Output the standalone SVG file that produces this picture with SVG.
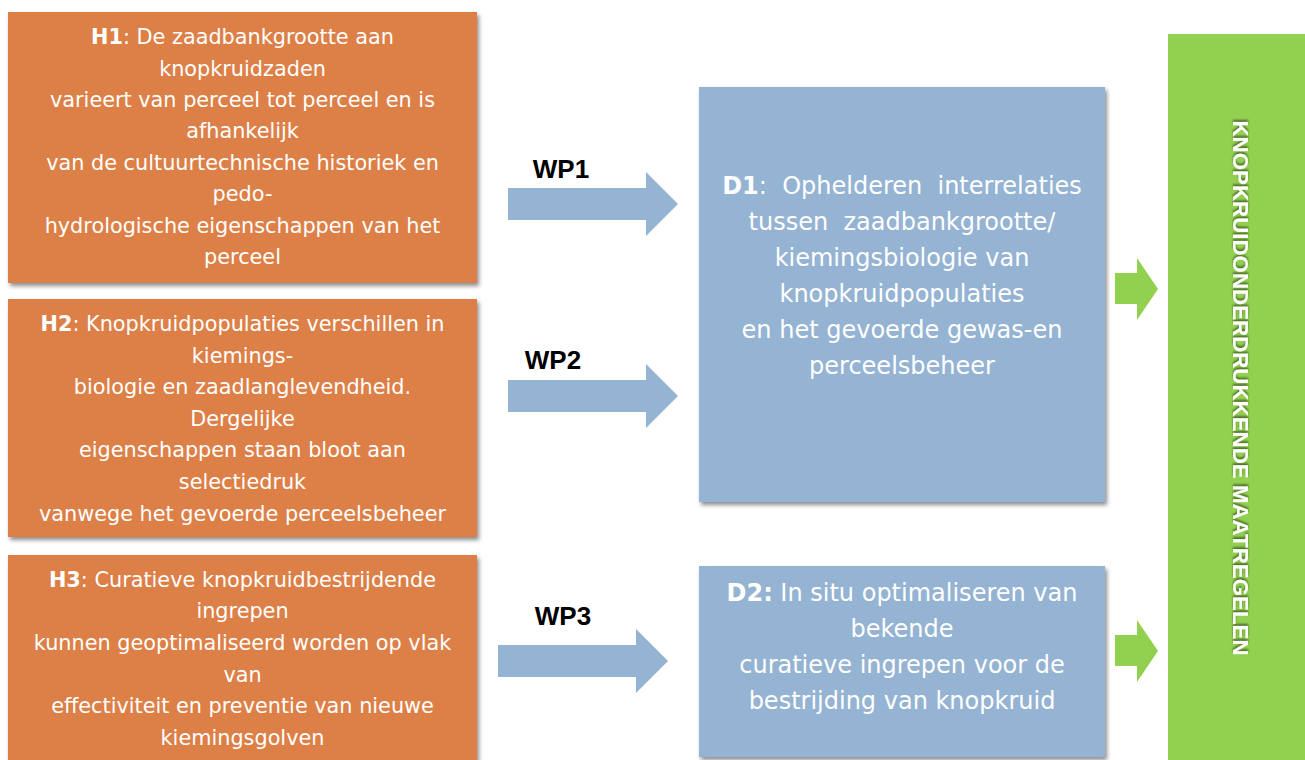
<svg xmlns="http://www.w3.org/2000/svg" width="1305" height="760" viewBox="0 0 1305 760">
  <defs>
    <filter id="shadow" x="-5%" y="-5%" width="112%" height="115%">
      <feDropShadow dx="2" dy="3" stdDeviation="2" flood-color="#000" flood-opacity="0.45"/>
    </filter>
    <filter id="tshadow" x="-20%" y="-5%" width="140%" height="110%">
      <feDropShadow dx="-2" dy="0" stdDeviation="1.2" flood-color="#000" flood-opacity="0.5"/>
    </filter>
  </defs>
  <style>
    .hbox { fill: #DD8047; }
    .dbox { fill: #95B3D2; }
    .gbox { fill: #92D050; }
    .barrow { fill: #95B3D2; }
    .garrow { fill: #92D050; }
    .ht { font-family: "DejaVu Sans", "Liberation Sans", sans-serif; font-size: 20.8px; fill: #fff; text-anchor: middle; }
    .dt { font-family: "DejaVu Sans", "Liberation Sans", sans-serif; font-size: 24px; fill: #fff; text-anchor: middle; }
    .b { font-weight: bold; }
    .wp { font-family: "Liberation Sans", Arial, sans-serif; font-size: 26px; font-weight: bold; fill: #000; text-anchor: middle; }
    .vt { font-family: "Liberation Sans", Arial, sans-serif; font-size: 22px; font-weight: bold; fill: #fff; text-anchor: middle; }
  </style>

  <g id="H1">
    <rect class="hbox" x="8" y="12" width="469" height="271" filter="url(#shadow)"/>
    <text class="ht" x="242.5" y="44"><tspan class="b">H1</tspan>: De zaadbankgrootte aan</text>
    <text class="ht" x="242.5" y="76">knopkruidzaden</text>
    <text class="ht" x="242.5" y="107">varieert van perceel tot perceel en is</text>
    <text class="ht" x="242.5" y="138">afhankelijk</text>
    <text class="ht" x="242.5" y="170">van de cultuurtechnische historiek en</text>
    <text class="ht" x="242.5" y="201">pedo-</text>
    <text class="ht" x="242.5" y="233">hydrologische eigenschappen van het</text>
    <text class="ht" x="242.5" y="264">perceel</text>
  </g>

  <g id="H2">
    <rect class="hbox" x="8" y="299" width="469" height="238" filter="url(#shadow)"/>
    <text class="ht" x="242.5" y="331"><tspan class="b">H2</tspan>: Knopkruidpopulaties verschillen in</text>
    <text class="ht" x="242.5" y="363">kiemings-</text>
    <text class="ht" x="242.5" y="394">biologie en zaadlanglevendheid.</text>
    <text class="ht" x="242.5" y="426">Dergelijke</text>
    <text class="ht" x="242.5" y="457">eigenschappen staan bloot aan</text>
    <text class="ht" x="242.5" y="489">selectiedruk</text>
    <text class="ht" x="242.5" y="521">vanwege het gevoerde perceelsbeheer</text>
  </g>

  <g id="H3">
    <rect class="hbox" x="8" y="555" width="469" height="215" filter="url(#shadow)"/>
    <text class="ht" x="242.5" y="587"><tspan class="b">H3</tspan>: Curatieve knopkruidbestrijdende</text>
    <text class="ht" x="242.5" y="618">ingrepen</text>
    <text class="ht" x="242.5" y="650">kunnen geoptimaliseerd worden op vlak</text>
    <text class="ht" x="242.5" y="682">van</text>
    <text class="ht" x="242.5" y="713">effectiviteit en preventie van nieuwe</text>
    <text class="ht" x="242.5" y="745">kiemingsgolven</text>
  </g>

  <g id="D1">
    <rect class="dbox" x="699" y="87" width="406" height="415" filter="url(#shadow)"/>
    <text class="dt" x="902" y="194" xml:space="preserve"><tspan class="b">D1</tspan>:  Ophelderen  interrelaties</text>
    <text class="dt" x="902" y="230" xml:space="preserve">tussen  zaadbankgrootte/</text>
    <text class="dt" x="902" y="266">kiemingsbiologie van</text>
    <text class="dt" x="902" y="302">knopkruidpopulaties</text>
    <text class="dt" x="902" y="338">en het gevoerde gewas-en</text>
    <text class="dt" x="902" y="374">perceelsbeheer</text>
  </g>

  <g id="D2">
    <rect class="dbox" x="699" y="566" width="406" height="191" filter="url(#shadow)"/>
    <text class="dt" x="902" y="601"><tspan class="b">D2:</tspan> In situ optimaliseren van</text>
    <text class="dt" x="902" y="637">bekende</text>
    <text class="dt" x="902" y="673">curatieve ingrepen voor de</text>
    <text class="dt" x="902" y="709">bestrijding van knopkruid</text>
  </g>

  <g id="Maatregelen">
    <rect class="gbox" x="1168" y="34" width="137" height="726"/>
    <text class="vt" transform="translate(1233 388) rotate(90)" x="0" y="0" textLength="535" lengthAdjust="spacingAndGlyphs" filter="url(#tshadow)">KNOPKRUIDONDERDRUKKENDE MAATREGELEN</text>
  </g>

  <g id="connectors">
    <polygon class="barrow" points="508,188 646,188 646,172 678,204 646,236 646,220 508,220"/>
    <text class="wp" x="561" y="178">WP1</text>
    <polygon class="barrow" points="508,380 646,380 646,364 678,396 646,428 646,412 508,412"/>
    <text class="wp" x="553" y="369">WP2</text>
    <polygon class="barrow" points="498,645 636,645 636,629 668,661 636,693 636,677 498,677"/>
    <text class="wp" x="563" y="625">WP3</text>
    <polygon class="garrow" points="1115,273 1137,273 1137,258 1158,289 1137,320 1137,304 1115,304"/>
    <polygon class="garrow" points="1115,635 1137,635 1137,620 1158,651 1137,682 1137,666 1115,666"/>
  </g>
</svg>
